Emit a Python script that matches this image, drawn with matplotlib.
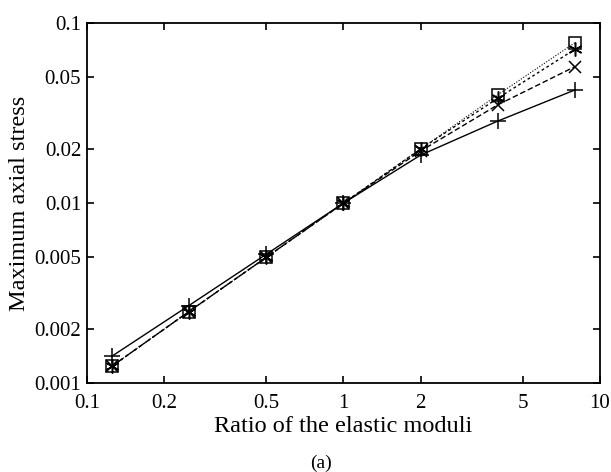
import numpy as np
import matplotlib
matplotlib.use("Agg")
from matplotlib import pyplot as plt
from matplotlib.ticker import FixedLocator, FixedFormatter, NullLocator

plt.rcParams["font.family"] = "Liberation Serif"

# ratio of the elastic moduli
ratio = [0.125, 0.25, 0.5, 1, 2, 4, 8]

# maximum axial stress, one list per curve
stress_plus = [0.00141, 0.0027, 0.0052, 0.01, 0.0185, 0.0286, 0.0426]
stress_cross = [0.00124, 0.0025, 0.005, 0.01, 0.0195, 0.0352, 0.0574]
stress_star = [0.00124, 0.0025, 0.005, 0.01, 0.02, 0.0383, 0.0717]
stress_square = [0.00124, 0.0025, 0.005, 0.01, 0.02, 0.040, 0.078]

xticks = [0.1, 0.2, 0.5, 1, 2, 5, 10]
xticklabels = ["0.1", "0.2", "0.5", "1", "2", "5", "10"]
yticks = [0.001, 0.002, 0.005, 0.01, 0.02, 0.05, 0.1]
yticklabels = ["0.001", "0.002", "0.005", "0.01", "0.02", "0.05", "0.1"]

fig = plt.figure(figsize=(6.11, 4.72), dpi=100)
ax = fig.add_axes([0.142, 0.188, 0.840, 0.763])

ax.plot(ratio, stress_plus, color="black", lw=1.0, ls="-",
        marker="+", ms=11, mew=1.1)
ax.plot(ratio, stress_cross, color="black", lw=1.0, ls=(0, (4, 2)),
        marker="x", ms=9, mew=1.1)
ax.plot(ratio, stress_star, color="black", lw=1.0, ls=(0, (2, 2)),
        marker=(6, 2, 0), ms=10, mew=1.1)
ax.plot(ratio, stress_square, color="black", lw=0.8, ls=(0, (1, 1.5)),
        marker="s", ms=9, mew=1.1, mfc="none")

ax.set_xscale("log")
ax.set_yscale("log")
ax.set_xlim(0.1, 10)
ax.set_ylim(0.001, 0.1)

ax.xaxis.set_major_locator(FixedLocator(xticks))
ax.xaxis.set_major_formatter(FixedFormatter(xticklabels))
ax.yaxis.set_major_locator(FixedLocator(yticks))
ax.yaxis.set_major_formatter(FixedFormatter(yticklabels))
ax.xaxis.set_minor_locator(NullLocator())
ax.yaxis.set_minor_locator(NullLocator())

ax.tick_params(direction="in", length=5, width=1.2, labelsize=15,
               top=True, right=True)
ax.tick_params(axis="x", pad=8)
ax.tick_params(axis="y", pad=4)
for s in ax.spines.values():
    s.set_linewidth(1.3)

ax.set_xlabel("Ratio of the elastic moduli", fontsize=17.5, labelpad=2)
ax.set_ylabel("Maximum axial stress", fontsize=17.5, labelpad=3)
fig.text(0.525, 0.019, "(a)", ha="center", va="center", fontsize=14)

plt.savefig("out.png", dpi=100)
